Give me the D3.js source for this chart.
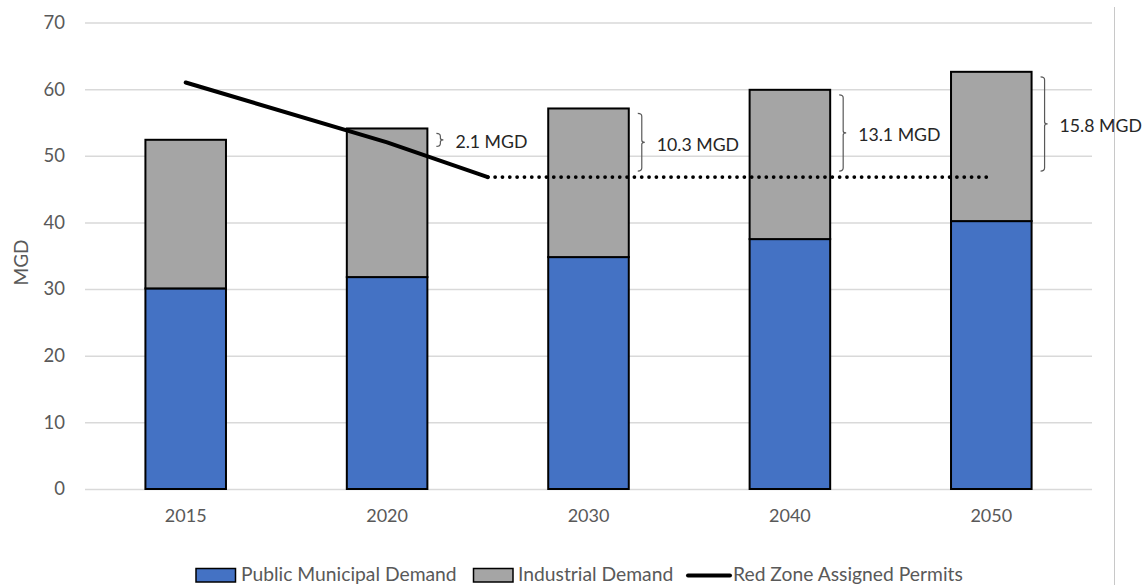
<!DOCTYPE html>
<html>
<head>
<meta charset="utf-8">
<script src="https://cdn.jsdelivr.net/npm/d3@7"></script>
<style>
  html, body { margin: 0; padding: 0; background: #fff; }
  svg { display: block; font-family: Lato, "Open Sans", sans-serif; }
</style>
</head>
<body>
<svg id="chart" width="1142" height="585"></svg>
<script>
// Water demand by year (MGD)
const years = ["2015", "2020", "2030", "2040", "2050"];
const municipal = [30.1, 31.8, 34.8, 37.5, 40.2];
const industrial = [22.3, 22.3, 22.3, 22.4, 22.4];

// Assigned permits: declining through 2025, then held flat (dotted)
const permitPos = [0, 1, 1.5];          // category positions (1.5 = 2025, between 2020 and 2030)
const permitVals = [61.0, 52.0, 46.8];
const permitFlatPos = [1.5, 2, 3, 4];
const permitFlatVals = [46.8, 46.8, 46.8, 46.8];

// Shortfall annotations (total demand above permits)
const gapYears = ["2020", "2030", "2040", "2050"];
const gapLabels = ["2.1 MGD", "10.3 MGD", "13.1 MGD", "15.8 MGD"];
const gapPermit = [52.0, 46.8, 46.8, 46.8];

const yTicks = [0, 10, 20, 30, 40, 50, 60, 70];

const svg = d3.select("#chart");
const plotL = 85, plotR = 1092, plotT = 22.5, plotB = 489;

const x = d3.scaleBand().domain(years).range([plotL, plotR])
  .paddingInner(0.6).paddingOuter(0.3);
const xPos = d3.scaleLinear().domain([-0.5, years.length - 0.5]).range([plotL, plotR]);
const y = d3.scaleLinear().domain([0, 70]).range([plotB, plotT]);

// Right border of the chart area
svg.append("line")
  .attr("x1", 1114.5).attr("x2", 1114.5).attr("y1", 7).attr("y2", 585)
  .attr("stroke", "#c8c8c8").attr("stroke-width", 1);

// Gridlines + y tick labels
const yAxis = d3.axisLeft(y).tickValues(yTicks).tickSize(-(plotR - plotL)).tickPadding(20);
const gy = svg.append("g").attr("transform", `translate(${plotL},0)`).call(yAxis);
gy.select(".domain").remove();
gy.selectAll(".tick line").attr("stroke", "#d9d9d9").attr("stroke-width", 1.5);
gy.selectAll(".tick text").attr("fill", "#595959").attr("font-size", 18.5)
  .attr("font-family", "Lato, sans-serif");

// x tick labels
const xAxis = d3.axisBottom(x).tickSize(0).tickPadding(20);
const gx = svg.append("g").attr("transform", `translate(0,${plotB})`).call(xAxis);
gx.select(".domain").remove();
gx.selectAll(".tick text").attr("fill", "#595959").attr("font-size", 18)
  .attr("font-family", "Lato, sans-serif");

// y axis title
svg.append("text")
  .attr("transform", `translate(27.5,262.5) rotate(-90)`)
  .attr("text-anchor", "middle")
  .attr("fill", "#595959").attr("font-size", 19)
  .text("MGD");

// Stacked bars
const rows = years.map((yr, i) => ({ year: yr, municipal: municipal[i], industrial: industrial[i] }));
const stack = d3.stack().keys(["municipal", "industrial"])(rows);
const colors = { municipal: "#4472C4", industrial: "#A5A5A5" };

svg.append("g").selectAll("g").data(stack).join("g")
  .attr("fill", d => colors[d.key])
  .selectAll("rect").data(d => d).join("rect")
  .attr("x", d => x(d.data.year))
  .attr("width", x.bandwidth())
  .attr("y", d => y(d[1]))
  .attr("height", d => y(d[0]) - y(d[1]))
  .attr("stroke", "#000").attr("stroke-width", 2);

// Permit line (solid) and projection (dotted)
const line = d3.line().x(d => xPos(d[0])).y(d => y(d[1]));
svg.append("path")
  .datum(permitPos.map((p, i) => [p, permitVals[i]]))
  .attr("d", line).attr("fill", "none")
  .attr("stroke", "#000").attr("stroke-width", 4).attr("stroke-linecap", "round");
svg.append("path")
  .datum(permitFlatPos.map((p, i) => [p, permitFlatVals[i]]))
  .attr("d", line).attr("fill", "none")
  .attr("stroke", "#000").attr("stroke-width", 3.8).attr("stroke-linecap", "round")
  .attr("stroke-dasharray", "0 7.33").attr("stroke-dashoffset", -7.33);

// Braces and gap labels
const totals = years.map((yr, i) => municipal[i] + industrial[i]);
const ann = svg.append("g");
gapYears.forEach((yr, i) => {
  const idx = years.indexOf(yr);
  const bx = x(yr) + x.bandwidth() + 9;
  const t = y(totals[idx]) + 5;
  const b = Math.max(y(gapPermit[i]) - 6, t + 13);
  const m = (t + b) / 2;
  const path = `M${bx},${t} Q${bx + 4},${t} ${bx + 4},${t + 3} L${bx + 4},${m - 2} Q${bx + 4},${m} ${bx + 7},${m} ` +
               `Q${bx + 4},${m} ${bx + 4},${m + 2} L${bx + 4},${b - 3} Q${bx + 4},${b} ${bx},${b}`;
  ann.append("path").attr("d", path).attr("fill", "none")
    .attr("stroke", "#595959").attr("stroke-width", 1.2);
  ann.append("text")
    .attr("x", bx + 19).attr("y", m + 2)
    .attr("dominant-baseline", "central")
    .attr("fill", "#262626").attr("font-size", 17.7)
    .text(gapLabels[i]);
});

// Legend
const lg = svg.append("g").attr("font-size", 19.3).attr("fill", "#595959");
const legendBase = 581;
lg.append("rect").attr("x", 196).attr("y", 568.5).attr("width", 39.5).attr("height", 13.5)
  .attr("fill", colors.municipal).attr("stroke", "#000").attr("stroke-width", 1.5);
lg.append("text").attr("x", 241).attr("y", legendBase)
  .attr("fill", "#595959").text("Public Municipal Demand");
lg.append("rect").attr("x", 473.5).attr("y", 568.5).attr("width", 39.5).attr("height", 13.5)
  .attr("fill", colors.industrial).attr("stroke", "#000").attr("stroke-width", 1.5);
lg.append("text").attr("x", 518).attr("y", legendBase)
  .attr("fill", "#595959").text("Industrial Demand");
lg.append("line").attr("x1", 688).attr("x2", 730).attr("y1", 575.5).attr("y2", 575.5)
  .attr("stroke", "#000").attr("stroke-width", 4).attr("stroke-linecap", "round");
lg.append("text").attr("x", 733).attr("y", legendBase)
  .attr("fill", "#595959").text("Red Zone Assigned Permits");
</script>
</body>
</html>
